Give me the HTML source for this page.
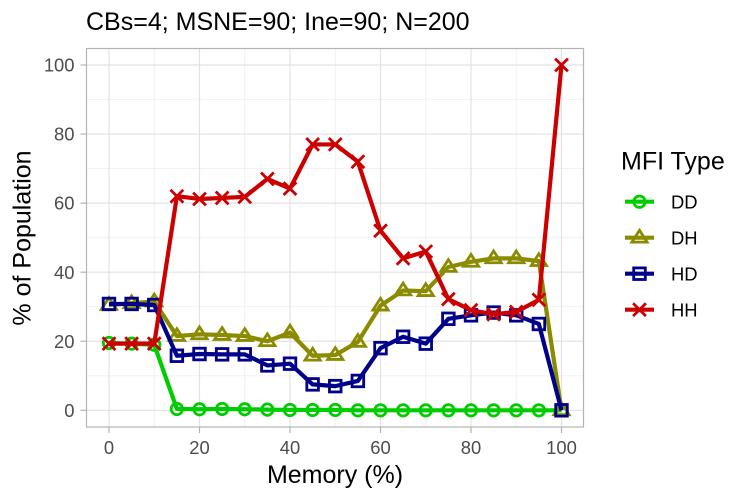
<!DOCTYPE html>
<html><head><meta charset="utf-8"><style>
html,body{margin:0;padding:0;background:#fff}
svg{display:block}
text{font-family:"Liberation Sans",Arial,sans-serif}
</style></head><body>
<svg id="chart" xmlns="http://www.w3.org/2000/svg" width="750" height="500" viewBox="0 0 750 500"></svg>
<script>
const memory = [0,5,10,15,20,25,30,35,40,45,50,55,60,65,70,75,80,85,90,95,100];
const seriesDD = [19.5,19.3,19,0.4,0.3,0.4,0.3,0.2,0.1,0.1,0.1,0,0,0,0,0,0,0,0,0,0];
const seriesDH = [30.5,31,31.5,21.5,22,21.8,21.5,20,22.5,15.8,16,19.8,30.3,34.7,34.5,41.5,43,44,44,43.2,0];
const seriesHD = [30.8,30.8,30.5,15.8,16.3,16.2,16.2,13,13.5,7.5,7,8.5,18,21.3,19.3,26.5,27.5,28.3,27.5,25,0];
const seriesHH = [19.3,19.3,19.3,62,61.2,61.5,61.8,67,64.2,77,77,72,52,44,46,32.2,29,27.8,28.5,32,100];
const seriesNames = ['DD','DH','HD','HH'];
const xTicks = [0,20,40,60,80,100];
const yTicks = [0,20,40,60,80,100];
const xMinor = [10,30,50,70,90];
const yMinor = [10,30,50,70,90];

const NS = 'http://www.w3.org/2000/svg';
const svg = document.getElementById('chart');
const P = {l:86.5, r:583.5, t:48.5, b:427};
const sx = v => 109 + v * 4.525;
const sy = v => 410.3 - v * 3.453;

function mk(tag, attrs, parent, text) {
  const e = document.createElementNS(NS, tag);
  for (const k in attrs) e.setAttribute(k, attrs[k]);
  if (text !== undefined) e.textContent = text;
  (parent || svg).appendChild(e);
  return e;
}

function marker(kind, x, y, color, parent) {
  const g = {fill:'none', stroke:color, 'stroke-width':2.8};
  if (kind === 'DD') return mk('circle', {cx:x, cy:y, r:5.7, ...g}, parent);
  if (kind === 'DH') return mk('path', {d:`M${x} ${y-7.4}L${x+7.6} ${y+4.4}L${x-7.6} ${y+4.4}Z`, ...g}, parent);
  if (kind === 'HD') return mk('rect', {x:x-5.8, y:y-5.8, width:11.6, height:11.6, ...g}, parent);
  return mk('path', {d:`M${x-6.4} ${y-6.4}L${x+6.4} ${y+6.4}M${x+6.4} ${y-6.4}L${x-6.4} ${y+6.4}`, ...g}, parent);
}

const bg = mk('rect', {x:P.l, y:P.t, width:P.r-P.l, height:P.b-P.t, fill:'#fff'});



const grid = mk('g', {});


xMinor.forEach(v => mk('line', {x1:sx(v), x2:sx(v), y1:P.t, y2:P.b, stroke:'#f0f0f0', 'stroke-width':0.9}, grid));
yMinor.forEach(v => mk('line', {x1:P.l, x2:P.r, y1:sy(v), y2:sy(v), stroke:'#f0f0f0', 'stroke-width':0.9}, grid));
xTicks.forEach(v => mk('line', {x1:sx(v), x2:sx(v), y1:P.t, y2:P.b, stroke:'#e2e2e2', 'stroke-width':1.2}, grid));
yTicks.forEach(v => mk('line', {x1:P.l, x2:P.r, y1:sy(v), y2:sy(v), stroke:'#e2e2e2', 'stroke-width':1.2}, grid));

const colors = {DD:'#00cd00', DH:'#8b8b00', HD:'#00008b', HH:'#cd0000'};
const values = {DD:seriesDD, DH:seriesDH, HD:seriesHD, HH:seriesHH};

seriesNames.forEach(name => {
  const g = mk('g', {});
  
  
  const pts = values[name].map((v, i) => sx(memory[i]) + ',' + sy(v)).join(' ');
  mk('polyline', {points:pts, fill:'none', stroke:colors[name], 'stroke-width':4.2, 'stroke-linejoin':'round', 'stroke-linecap':'butt'}, g);
  values[name].forEach((v, i) => marker(name, sx(memory[i]), sy(v), colors[name], g));
});

const border = mk('rect', {x:P.l, y:P.t, width:P.r-P.l, height:P.b-P.t, fill:'none', stroke:'#b3b3b3', 'stroke-width':1.2});



const xAxis = mk('g', {});


xTicks.forEach(v => {
  mk('line', {x1:sx(v), x2:sx(v), y1:P.b, y2:P.b+6, stroke:'#b3b3b3', 'stroke-width':1.2}, xAxis);
  mk('text', {x:sx(v), y:454, 'text-anchor':'middle', 'font-size':18.4, fill:'#4d4d4d'}, xAxis, v);
});
const yAxis = mk('g', {});


yTicks.forEach(v => {
  mk('line', {x1:P.l-6, x2:P.l, y1:sy(v), y2:sy(v), stroke:'#b3b3b3', 'stroke-width':1.2}, yAxis);
  mk('text', {x:74.5, y:sy(v)+6.6, 'text-anchor':'end', 'font-size':18.4, fill:'#4d4d4d'}, yAxis, v);
});

const title = mk('text', {x:86, y:30, 'font-size':25, fill:'#000'}, svg, 'CBs=4; MSNE=90; Ine=90; N=200');


const xTitle = mk('text', {x:335, y:483, 'text-anchor':'middle', 'font-size':25, fill:'#000'}, svg, 'Memory (%)');


const yTitle = mk('text', {x:0, y:0, transform:'translate(30.5,238) rotate(-90)', 'text-anchor':'middle', 'font-size':25, fill:'#000'}, svg, '% of Population');



const legend = mk('g', {});


mk('text', {x:621, y:169.3, 'font-size':25, fill:'#000'}, legend, 'MFI Type');
seriesNames.forEach((name, i) => {
  const y = 201.7 + i * 36;
  const g = mk('g', {}, legend);
  
  
  mk('line', {x1:625, x2:654, y1:y, y2:y, stroke:colors[name], 'stroke-width':4.2}, g);
  marker(name, 639.5, y, colors[name], g);
  mk('text', {x:671, y:y+6.6, 'font-size':18.4, fill:'#000'}, g, name);
});
</script>
</body></html>
